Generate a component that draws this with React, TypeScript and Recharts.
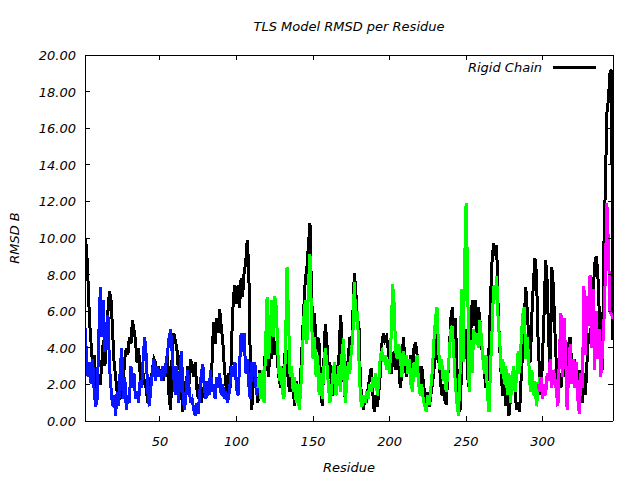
import { Label, Legend, Line, LineChart, XAxis, YAxis } from "recharts";

const FONT = "'DejaVu Sans', sans-serif";

// residue range and axis ticks
const residueDomain = [1, 346];
const residueTicks = [50, 100, 150, 200, 250, 300];
const rmsdTicks = [0, 2, 4, 6, 8, 10, 12, 14, 16, 18, 20];

// whole chain, residues 1..346
const rigidChain = [
  10.0, 9.5, 7.6, 5.4, 4.2, 3.0, 3.6, 2.2, 1.6, 2.4,
  2.0, 3.2, 4.4, 3.0, 4.6, 6.0, 7.1, 6.6, 5.0, 3.2,
  2.4, 1.6, 1.0, 1.8, 1.2, 2.2, 3.4, 4.0, 3.6, 4.6,
  4.2, 5.5, 5.0, 4.4, 3.2, 4.0, 2.6, 1.8, 2.6, 2.0,
  1.8, 1.0, 2.4, 2.0, 2.8, 3.4, 3.2, 2.6, 3.0, 2.4,
  2.8, 2.2, 3.0, 2.4, 3.6, 1.2, 0.6, 3.8, 4.8, 4.4,
  4.0, 2.8, 3.6, 1.6, 0.5, 2.2, 1.4, 3.0, 2.0, 3.4,
  3.0, 2.4, 3.2, 1.8, 1.2, 2.0, 1.0, 1.6, 1.4, 2.2,
  1.4, 2.0, 1.6, 3.2, 5.4, 4.2, 5.6, 4.8, 6.1, 5.2,
  4.4, 3.0, 2.0, 1.4, 2.6, 1.8, 4.8, 6.8, 7.4, 6.4,
  7.4, 6.2, 7.8, 6.8, 8.2, 8.6, 9.9, 8.4, 3.2, 0.6,
  2.6, 1.8, 2.4, 1.0, 2.8, 1.6, 2.2, 2.8, 4.0, 3.2,
  2.4, 4.6, 3.4, 5.2, 3.6, 4.2, 3.0, 2.2, 1.8, 3.0,
  2.6, 4.2, 3.2, 2.0, 1.6, 2.8, 1.8, 0.8, 2.2, 1.4,
  0.8, 2.6, 4.4, 6.2, 7.8, 8.4, 9.6, 10.8, 7.0, 4.8,
  5.9, 3.8, 4.6, 4.2, 2.0, 0.8, 3.0, 5.3, 4.4, 2.6,
  3.2, 2.0, 1.4, 2.4, 1.6, 2.8, 3.6, 5.8, 4.4, 2.4,
  1.2, 2.4, 3.4, 4.6, 3.6, 5.8, 8.1, 7.0, 5.6, 5.2,
  2.0, 1.2, 0.6, 1.4, 1.0, 1.8, 2.4, 2.9, 1.6, 0.5,
  1.4, 0.8, 1.6, 2.6, 4.2, 4.8, 4.4, 4.6, 4.0, 3.2,
  2.6, 3.2, 3.8, 2.8, 3.6, 3.0, 1.8, 2.6, 4.6, 3.4,
  2.4, 3.2, 2.8, 3.6, 2.6, 4.0, 4.3, 3.6, 2.6, 1.8,
  3.0, 2.2, 1.4, 1.0, 1.6, 0.8, 1.4, 2.0, 2.8, 3.6,
  5.0, 3.4, 2.6, 1.4, 2.0, 1.2, 0.9, 2.4, 3.6, 5.6,
  6.2, 4.8, 5.6, 3.0, 1.2, 0.5, 2.6, 4.6, 3.6, 5.0,
  2.4, 1.8, 4.6, 6.6, 5.2, 6.6, 4.8, 6.2, 5.6, 4.2,
  3.4, 2.6, 1.8, 2.4, 4.0, 6.8, 8.8, 9.7, 9.0, 9.6,
  6.0, 4.0, 2.4, 1.4, 2.0, 0.8, 1.6, 0.3, 1.2, 2.0,
  2.6, 1.6, 0.6, 1.0, 0.5, 2.4, 3.8, 5.6, 7.3, 6.0,
  4.4, 3.2, 5.8, 7.6, 8.9, 8.0, 4.6, 2.6, 1.4, 3.6,
  6.0, 8.8, 7.6, 4.4, 2.4, 8.4, 7.4, 5.0, 3.0, 2.0,
  2.6, 1.8, 3.0, 2.4, 3.6, 2.8, 4.2, 4.6, 3.0, 2.2,
  3.4, 2.4, 1.6, 2.8, 1.8, 1.0, 2.6, 1.4, 3.2, 4.8,
  4.2, 5.6, 6.8, 8.6, 9.0, 8.2, 6.0, 4.0, 2.8, 9.4,
  12.8, 16.8, 17.6, 19.0, 19.2, 4.4,
];

// TLS group 1, residues 1..114
const blueStart = 1;
const blueGroup = [
  5.1, 3.6, 2.4, 3.2, 2.0, 3.4, 1.6, 0.8, 1.2, 4.6,
  7.3, 4.6, 6.6, 3.8, 5.2, 5.8, 3.0, 1.8, 0.8, 1.4,
  0.3, 1.6, 0.8, 2.8, 4.0, 1.2, 2.4, 0.6, 1.4, 1.0,
  3.0, 1.8, 2.6, 1.2, 1.6, 1.0, 2.2, 1.8, 3.4, 4.6,
  3.6, 1.6, 0.8, 1.8, 2.6, 3.4, 2.2, 3.0, 2.4, 2.8,
  2.2, 3.0, 2.4, 3.2, 3.8, 4.6, 5.0, 3.6, 2.4, 1.4,
  3.0, 1.0, 2.4, 3.8, 1.6, 0.6, 1.4, 2.8, 1.8, 1.0,
  1.2, 0.6, 0.3, 1.0, 0.4, 1.6, 2.6, 3.1, 1.8, 1.2,
  2.2, 1.4, 2.8, 1.6, 2.0, 1.2, 2.4, 1.8, 2.6, 1.4,
  2.0, 1.2, 1.6, 1.0, 1.4, 2.2, 3.0, 2.4, 3.2, 1.8,
  1.4, 3.0, 4.8, 3.8, 4.8, 2.6, 3.4, 2.0, 1.2, 3.2,
  2.4, 3.2, 1.4, 1.8,
];

// TLS group 2, residues 114..298
const greenStart = 114;
const greenGroup = [
  1.8, 2.6, 1.2, 2.8, 1.0, 4.2, 6.8,
  3.4, 4.8, 6.6, 4.6, 6.8, 6.2, 3.8, 2.2, 3.0, 1.6,
  1.2, 4.0, 8.4, 5.6, 2.4, 3.0, 1.6, 2.4, 1.0, 2.0,
  0.6, 1.8, 3.4, 5.6, 6.6, 4.2, 7.4, 9.1, 5.6, 3.4,
  4.6, 2.4, 3.6, 1.4, 2.6, 1.2, 2.8, 4.0, 3.2, 2.0,
  1.0, 1.6, 2.6, 3.2, 1.4, 2.2, 3.0, 1.6, 3.8, 4.5,
  1.0, 2.0, 3.2, 2.6, 3.8, 4.6, 7.6, 5.4, 6.0, 3.4,
  1.2, 0.8, 1.4, 1.0, 1.6, 1.2, 2.0, 1.6, 2.4, 1.8,
  2.6, 1.4, 2.2, 3.6, 3.8, 3.4, 3.6, 2.8, 3.4, 2.6,
  4.6, 7.5, 6.4, 3.8, 3.4, 4.2, 3.6, 2.4, 3.8, 3.0,
  3.6, 2.6, 3.4, 2.0, 1.6, 3.2, 2.4, 3.6, 2.0, 1.4,
  2.0, 1.2, 0.8, 0.5, 1.4, 0.9, 1.8, 2.8, 4.4, 5.6,
  6.2, 4.0, 2.8, 3.4, 2.2, 2.8, 1.6, 2.6, 3.6, 5.0,
  5.2, 3.6, 2.0, 1.0, 0.3, 2.4, 7.2, 3.2, 8.4, 11.9,
  8.0, 1.6, 4.4, 2.6, 5.0, 4.2, 4.8, 4.0, 5.5, 4.6,
  3.4, 2.6, 3.6, 1.4, 0.5, 3.0, 5.0, 7.4, 6.6, 7.9,
  5.4, 4.4, 2.6, 3.4, 2.0, 3.0, 1.4, 2.6, 1.0, 2.2,
  3.0, 1.6, 2.4, 3.8, 2.6, 4.4, 5.8, 6.2, 3.4, 4.6,
  3.2, 1.6, 2.8, 1.4, 2.2, 0.8, 1.6, 2.4,
];

// TLS group 3, residues 297..346
const magentaStart = 297;
const magentaGroup = [
  2.0, 1.6, 2.4, 1.2,
  2.0, 1.4, 2.6, 2.2, 3.4, 1.8, 2.8, 2.4, 1.6, 0.8,
  3.6, 5.9, 2.4, 5.6, 3.8, 0.6, 2.6, 4.2, 2.0, 3.4,
  1.8, 3.2, 1.2, 0.4, 2.6, 1.8, 7.4, 3.6, 6.8, 5.2,
  8.0, 4.0, 7.2, 2.8, 6.0, 3.4, 5.0, 2.4, 3.6, 5.2,
  8.0, 11.9, 9.6, 6.0, 5.8, 5.6,
];

function pick(values: number[], start: number, residue: number) {
  const i = residue - start;
  return i >= 0 && i < values.length ? values[i] : null;
}

const rows = rigidChain.map((v, i) => {
  const residue = i + 1;
  return {
    residue,
    rigid: v,
    blue: pick(blueGroup, blueStart, residue),
    green: pick(greenGroup, greenStart, residue),
    magenta: pick(magentaGroup, magentaStart, residue),
  };
});

const textStyle = { fontFamily: FONT, fontStyle: "italic", fontSize: 13, fill: "#000" };

function BottomTick({ x, y, payload }: any) {
  return (
    <g>
      <line x1={x} y1={y} x2={x} y2={y - 5} stroke="#000" shapeRendering="crispEdges" />
      <text x={x} y={y + 25} textAnchor="middle" style={textStyle}>
        {payload.value}
      </text>
    </g>
  );
}

function TopTick({ x, y }: any) {
  return <line x1={x} y1={y} x2={x} y2={y + 5} stroke="#000" shapeRendering="crispEdges" />;
}

function LeftTick({ x, y, payload }: any) {
  return (
    <g>
      <line x1={x} y1={y} x2={x + 5} y2={y} stroke="#000" shapeRendering="crispEdges" />
      <text x={x - 9} y={y + 5} textAnchor="end" style={textStyle}>
        {Number(payload.value).toFixed(2)}
      </text>
    </g>
  );
}

function RightTick({ x, y }: any) {
  return <line x1={x} y1={y} x2={x - 5} y2={y} stroke="#000" shapeRendering="crispEdges" />;
}

function LegendBox() {
  return (
    <div style={{ position: "relative", width: 640, height: 20 }}>
      <span
        style={{
          position: "absolute",
          right: 98,
          top: 0,
          lineHeight: "20px",
          fontFamily: FONT,
          fontStyle: "italic",
          fontSize: 13,
          whiteSpace: "nowrap",
        }}
      >
        Rigid Chain
      </span>
      <span
        style={{
          position: "absolute",
          left: 553,
          top: 8,
          width: 43,
          height: 3,
          background: "#000",
        }}
      />
    </div>
  );
}

const lineProps = {
  type: "linear" as const,
  strokeWidth: 3,
  dot: false,
  shapeRendering: "crispEdges",
  isAnimationActive: false,
};

export default function App() {
  return (
    <div style={{ position: "absolute", left: 0, top: 0, background: "#fff" }}>
      <LineChart
        width={640}
        height={480}
        data={rows}
        margin={{ top: 0, right: 0, bottom: 0, left: 0 }}
      >
        <XAxis
          dataKey="residue"
          type="number"
          domain={residueDomain}
          ticks={residueTicks}
          interval={0}
          height={59}
          tickSize={0}
          tickMargin={0}
          tickLine={false}
          axisLine={{ stroke: "#000", shapeRendering: "crispEdges" }}
          tick={<BottomTick />}
          allowDataOverflow
        >
          <Label value="Residue" position="insideBottom" offset={8} style={textStyle} />
        </XAxis>
        <XAxis
          xAxisId="top"
          orientation="top"
          dataKey="residue"
          type="number"
          domain={residueDomain}
          ticks={residueTicks}
          interval={0}
          height={55}
          tickSize={0}
          tickMargin={0}
          tickLine={false}
          axisLine={{ stroke: "#000", shapeRendering: "crispEdges" }}
          tick={<TopTick />}
          allowDataOverflow
        >
          <Label
            value="TLS Model RMSD per Residue"
            position="insideTop"
            offset={22}
            style={textStyle}
          />
        </XAxis>
        <YAxis
          type="number"
          domain={[0, 20]}
          ticks={rmsdTicks}
          interval={0}
          width={85}
          tickSize={0}
          tickMargin={0}
          tickLine={false}
          axisLine={{ stroke: "#000", shapeRendering: "crispEdges" }}
          tick={<LeftTick />}
          allowDataOverflow
        >
          <Label
            value="RMSD B"
            angle={-90}
            position="insideLeft"
            offset={14}
            style={{ ...textStyle, textAnchor: "middle" }}
          />
        </YAxis>
        <YAxis
          yAxisId="right"
          orientation="right"
          type="number"
          domain={[0, 20]}
          ticks={rmsdTicks}
          interval={0}
          width={27}
          tickSize={0}
          tickMargin={0}
          tickLine={false}
          axisLine={{ stroke: "#000", shapeRendering: "crispEdges" }}
          tick={<RightTick />}
          allowDataOverflow
        />
        <Legend
          layout="horizontal"
          verticalAlign="middle"
          align="center"
          wrapperStyle={{ top: 58, left: 0, width: 640, height: 20 }}
          content={() => <LegendBox />}
        />
        <Line {...lineProps} dataKey="rigid" name="Rigid Chain" stroke="#000000" />
        <Line {...lineProps} dataKey="blue" stroke="#0a16ff" legendType="none" />
        <Line {...lineProps} dataKey="green" stroke="#00ff00" legendType="none" />
        <Line {...lineProps} dataKey="magenta" stroke="#ff00ff" legendType="none" />
      </LineChart>
    </div>
  );
}
